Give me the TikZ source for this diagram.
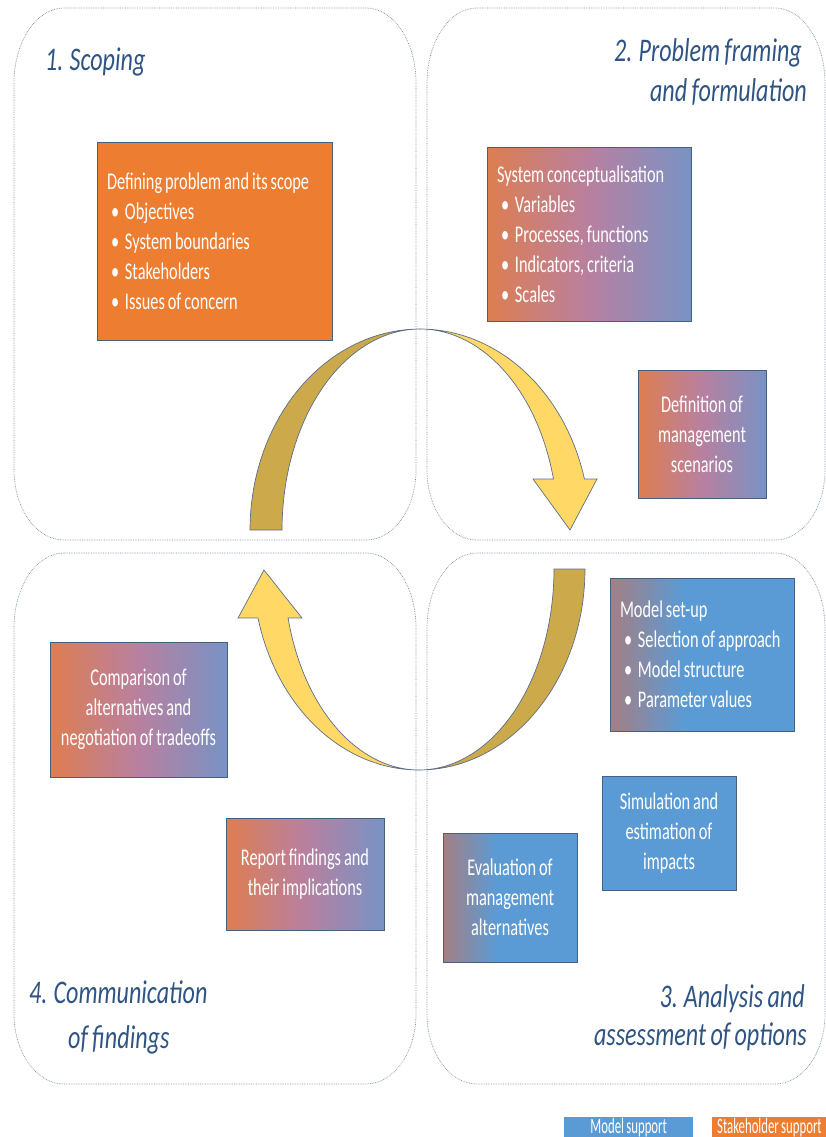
\documentclass[tikz,border=0pt]{standalone}
\usepackage{fontspec}
\setmainfont{Carlito}
\newfontfamily\boxfont[FakeStretch=0.68, WordSpace=0.8]{Carlito}
\newfontfamily\keyfont[FakeStretch=0.58, WordSpace=0.8]{Carlito}
\newfontfamily\headfont[FakeStretch=0.73, WordSpace=0.8]{Carlito}
\usepackage{tikz}
\usetikzlibrary{positioning}

\definecolor{storange}{RGB}{237,125,49}
\definecolor{mdblue}{RGB}{91,155,213}
\definecolor{stmauve}{RGB}{184,128,160}
\definecolor{stgrey}{RGB}{160,128,136}
\definecolor{boxline}{RGB}{72,96,128}
\definecolor{panelline}{RGB}{120,140,165}
\definecolor{headblue}{RGB}{46,84,132}
\definecolor{lightgold}{RGB}{255,216,102}
\definecolor{darkgold}{RGB}{204,170,76}
\definecolor{arrowline}{RGB}{92,110,134}

% 渐变: 左橙右蓝
\pgfdeclarehorizontalshading{mixwide}{100bp}{color(0bp)=(storange); color(15bp)=(storange); color(50bp)=(stmauve); color(86bp)=(mdblue); color(100bp)=(mdblue)}
\pgfdeclarehorizontalshading{mixshort}{100bp}{color(0bp)=(storange); color(8bp)=(storange); color(26bp)=(stgrey); color(45bp)=(mdblue); color(100bp)=(mdblue)}
\pgfdeclarehorizontalshading{mixedge}{100bp}{color(0bp)=(storange); color(5bp)=(storange); color(11bp)=(mdblue); color(100bp)=(mdblue)}

\begin{document}
\begin{tikzpicture}[x=1pt, y=-1pt,
        panel/.style={densely dotted, draw=panelline, line width=0.7pt},
        head/.style={font=\headfont\itshape\fontsize{33}{40}\selectfont, text=headblue, inner sep=0pt},
        box/.style={draw=boxline, line width=0.8pt, text=white, font=\boxfont\fontsize{24}{30}\selectfont, inner sep=0pt},
        listbox/.style={box, align=flush left, inner xsep=10pt},
        midbox/.style={box, align=center},
        back/.style={fill=darkgold, draw=arrowline, line width=0.7pt},
        front/.style={fill=lightgold, draw=arrowline, line width=0.7pt},
        key/.style={text=white, font=\keyfont\fontsize{22}{22}\selectfont, inner sep=0pt, minimum height=20pt}
    ]

    \useasboundingbox (0,0) rectangle (826,1137);
    \clip (0,0) rectangle (826,1137);

    % 四个面板
    \foreach \xa/\ya/\xb/\yb in {14/8/416/540, 427/8/825/540, 427/553/825/1084, 14/553/416/1084} {
        \draw[panel] (\xa+50,\ya) -- (\xb-50,\ya)
            arc[start angle=270, end angle=360, x radius=50, y radius=75] -- (\xb,\yb-70)
            arc[start angle=0, end angle=90, x radius=50, y radius=70] -- (\xa+50,\yb)
            arc[start angle=90, end angle=180, x radius=50, y radius=70] -- (\xa,\ya+75)
            arc[start angle=180, end angle=270, x radius=50, y radius=75] -- cycle;
    }

    % 标题
    \node[head, anchor=base west] (scoping) at (45,71) {1. Scoping};
    \node[head, anchor=base east] (framing) at (802,62) {2. Problem framing};
    \node[head, anchor=base east] (formulation) at (807,102) {and formulation};
    \node[head, anchor=base east] (analysis) at (805,1007) {3. Analysis and};
    \node[head, anchor=base east] (assessment) at (807,1045) {assessment of options};
    \node[head, anchor=base west] (communication) at (29,1003) {4. Communication};
    \node[head, anchor=base west] (findings) at (68,1048) {of findings};

    % 上方箭头
    \draw[back] plot[domain=180:270, samples=40] ({420+170*cos(\x)}, {530+201*sin(\x)})
        -- plot[domain=270:180, samples=40] ({420+138*cos(\x)}, {530+201*sin(\x)}) -- cycle;
    \draw[front] plot[domain=-90:-14.7, samples=40] ({420+170*cos(\x)}, {530+201*sin(\x)})
        -- (597,479) -- (570,530) -- (533,479)
        -- plot[domain=-14.7:-90, samples=40] ({420+138*cos(\x)}, {530+201*sin(\x)}) -- cycle;

    % 下方箭头
    \draw[back] plot[domain=0:90, samples=40] ({419+166*cos(\x)}, {569+201*sin(\x)})
        -- plot[domain=90:0, samples=40] ({419+135*cos(\x)}, {569+201*sin(\x)}) -- cycle;
    \draw[front] plot[domain=90:165.9, samples=40] ({419+166*cos(\x)}, {569+201*sin(\x)})
        -- (238,618) -- (264,570) -- (302,618)
        -- plot[domain=165.9:90, samples=40] ({419+135*cos(\x)}, {569+201*sin(\x)}) -- cycle;

    % 方框
    \node[listbox, fill=storange, text width=215pt, minimum height=198pt] (scope) at (214.5,241)
        {Defining problem and its scope\\
         \makebox[18pt][l]{\,\textbullet}Objectives\\
         \makebox[18pt][l]{\,\textbullet}System boundaries\\
         \makebox[18pt][l]{\,\textbullet}Stakeholders\\
         \makebox[18pt][l]{\,\textbullet}Issues of concern};
    \node[listbox, shading=mixwide, text width=184pt, minimum height=174pt] (concept) at (589,234)
        {System conceptualisation\\
         \makebox[18pt][l]{\,\textbullet}Variables\\
         \makebox[18pt][l]{\,\textbullet}Processes, functions\\
         \makebox[18pt][l]{\,\textbullet}Indicators, criteria\\
         \makebox[18pt][l]{\,\textbullet}Scales};
    \node[midbox, shading=mixwide, minimum width=128pt, minimum height=128pt] (scenarios) at (702,434)
        {Definition of\\management\\scenarios};
    \node[listbox, shading=mixshort, text width=164pt, minimum height=153pt] (setup) at (702,654.5)
        {Model set-up\\
         \makebox[18pt][l]{\,\textbullet}Selection of approach\\
         \makebox[18pt][l]{\,\textbullet}Model structure\\
         \makebox[18pt][l]{\,\textbullet}Parameter values};
    \node[midbox, shading=mixedge, minimum width=134pt, minimum height=114pt] (simulation) at (669,833)
        {Simulation and\\estimation of\\impacts};
    \node[midbox, shading=mixshort, minimum width=134pt, minimum height=129pt] (evaluation) at (510,897.5)
        {Evaluation of\\management\\alternatives};
    \node[midbox, shading=mixwide, minimum width=177pt, minimum height=135pt] (comparison) at (138.5,709.5)
        {Comparison of\\alternatives and\\negotiation of tradeoffs};
    \node[midbox, shading=mixwide, minimum width=158pt, minimum height=112pt] (report) at (305,874)
        {Report findings and\\their implications};

    % 图例
    \node[key, fill=mdblue, minimum width=129pt, anchor=north west] (modelkey) at (564,1117) {Model support};
    \node[key, fill=storange, minimum width=150pt, anchor=north west, text width=140pt, align=flush left] (stakekey) at (712,1117) {Stakeholder support};

\end{tikzpicture}
\end{document}
